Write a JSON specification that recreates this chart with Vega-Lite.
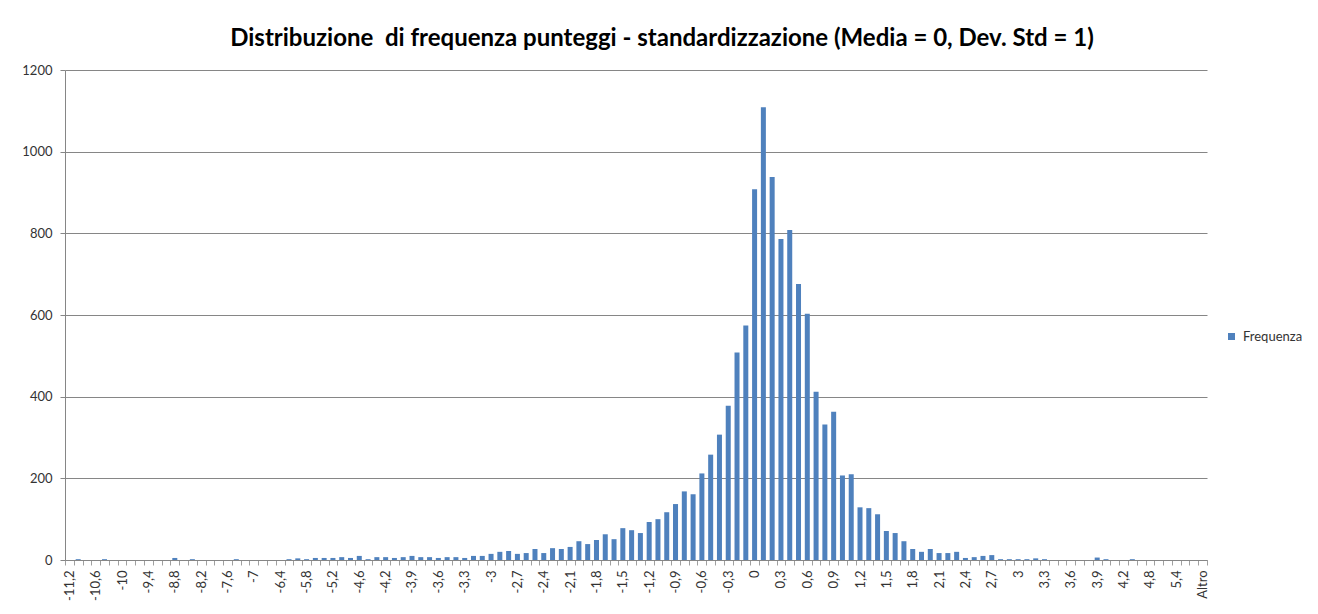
{
  "$schema": "https://vega.github.io/schema/vega-lite/v6.json",
  "autosize": {"type": "none"},
  "width": 1142,
  "height": 490,
  "padding": {"left": 65, "top": 70, "right": 111, "bottom": 54},
  "background": "white",
  "title": {
    "text": "Distribuzione \u00a0di frequenza punteggi - standardizzazione (Media = 0, Dev. Std = 1)",
    "font": "Lato",
    "fontSize": 24,
    "fontWeight": "bold",
    "color": "#000000",
    "anchor": "middle",
    "dx": 26,
    "offset": 13
  },
  "data": {
    "values": [
      {"classe": "-11,2", "frequenza": 0},
      {"classe": "-11", "frequenza": 2},
      {"classe": "-10,8", "frequenza": 0},
      {"classe": "-10,6", "frequenza": 0},
      {"classe": "-10,4", "frequenza": 2},
      {"classe": "-10,2", "frequenza": 0},
      {"classe": "-10", "frequenza": 0},
      {"classe": "-9,8", "frequenza": 0},
      {"classe": "-9,6", "frequenza": 0},
      {"classe": "-9,4", "frequenza": 0},
      {"classe": "-9,2", "frequenza": 0},
      {"classe": "-9", "frequenza": 0},
      {"classe": "-8,8", "frequenza": 5},
      {"classe": "-8,6", "frequenza": 0},
      {"classe": "-8,4", "frequenza": 2},
      {"classe": "-8,2", "frequenza": 0},
      {"classe": "-8", "frequenza": 0},
      {"classe": "-7,8", "frequenza": 0},
      {"classe": "-7,6", "frequenza": 0},
      {"classe": "-7,4", "frequenza": 2},
      {"classe": "-7,2", "frequenza": 0},
      {"classe": "-7", "frequenza": 0},
      {"classe": "-6,8", "frequenza": 0},
      {"classe": "-6,6", "frequenza": 0},
      {"classe": "-6,4", "frequenza": 0},
      {"classe": "-6,2", "frequenza": 2},
      {"classe": "-6", "frequenza": 4},
      {"classe": "-5,8", "frequenza": 2},
      {"classe": "-5,6", "frequenza": 5},
      {"classe": "-5,4", "frequenza": 5},
      {"classe": "-5,2", "frequenza": 5},
      {"classe": "-5", "frequenza": 7},
      {"classe": "-4,8", "frequenza": 5},
      {"classe": "-4,6", "frequenza": 10},
      {"classe": "-4,4", "frequenza": 2},
      {"classe": "-4,3", "frequenza": 7},
      {"classe": "-4,2", "frequenza": 7},
      {"classe": "-4,1", "frequenza": 5},
      {"classe": "-4", "frequenza": 7},
      {"classe": "-3,9", "frequenza": 10},
      {"classe": "-3,8", "frequenza": 7},
      {"classe": "-3,7", "frequenza": 7},
      {"classe": "-3,6", "frequenza": 5},
      {"classe": "-3,5", "frequenza": 7},
      {"classe": "-3,4", "frequenza": 7},
      {"classe": "-3,3", "frequenza": 5},
      {"classe": "-3,2", "frequenza": 10},
      {"classe": "-3,1", "frequenza": 10},
      {"classe": "-3", "frequenza": 15},
      {"classe": "-2,9", "frequenza": 20},
      {"classe": "-2,8", "frequenza": 22},
      {"classe": "-2,7", "frequenza": 15},
      {"classe": "-2,6", "frequenza": 17},
      {"classe": "-2,5", "frequenza": 27},
      {"classe": "-2,4", "frequenza": 17},
      {"classe": "-2,3", "frequenza": 29},
      {"classe": "-2,2", "frequenza": 27},
      {"classe": "-2,1", "frequenza": 32},
      {"classe": "-2", "frequenza": 46},
      {"classe": "-1,9", "frequenza": 39},
      {"classe": "-1,8", "frequenza": 49},
      {"classe": "-1,7", "frequenza": 63},
      {"classe": "-1,6", "frequenza": 51},
      {"classe": "-1,5", "frequenza": 78},
      {"classe": "-1,4", "frequenza": 73},
      {"classe": "-1,3", "frequenza": 66},
      {"classe": "-1,2", "frequenza": 93},
      {"classe": "-1,1", "frequenza": 100},
      {"classe": "-1", "frequenza": 117},
      {"classe": "-0,9", "frequenza": 137},
      {"classe": "-0,8", "frequenza": 168},
      {"classe": "-0,7", "frequenza": 161},
      {"classe": "-0,6", "frequenza": 212},
      {"classe": "-0,5", "frequenza": 258},
      {"classe": "-0,4", "frequenza": 307},
      {"classe": "-0,3", "frequenza": 378},
      {"classe": "-0,2", "frequenza": 508},
      {"classe": "-0,1", "frequenza": 574},
      {"classe": "0", "frequenza": 908},
      {"classe": "0,1", "frequenza": 1109},
      {"classe": "0,2", "frequenza": 938},
      {"classe": "0,3", "frequenza": 786},
      {"classe": "0,4", "frequenza": 808},
      {"classe": "0,5", "frequenza": 676},
      {"classe": "0,6", "frequenza": 603},
      {"classe": "0,7", "frequenza": 412},
      {"classe": "0,8", "frequenza": 332},
      {"classe": "0,9", "frequenza": 363},
      {"classe": "1", "frequenza": 207},
      {"classe": "1,1", "frequenza": 210},
      {"classe": "1,2", "frequenza": 129},
      {"classe": "1,3", "frequenza": 127},
      {"classe": "1,4", "frequenza": 112},
      {"classe": "1,5", "frequenza": 71},
      {"classe": "1,6", "frequenza": 66},
      {"classe": "1,7", "frequenza": 46},
      {"classe": "1,8", "frequenza": 27},
      {"classe": "1,9", "frequenza": 20},
      {"classe": "2", "frequenza": 27},
      {"classe": "2,1", "frequenza": 17},
      {"classe": "2,2", "frequenza": 17},
      {"classe": "2,3", "frequenza": 20},
      {"classe": "2,4", "frequenza": 5},
      {"classe": "2,5", "frequenza": 7},
      {"classe": "2,6", "frequenza": 10},
      {"classe": "2,7", "frequenza": 12},
      {"classe": "2,8", "frequenza": 2},
      {"classe": "2,9", "frequenza": 2},
      {"classe": "3", "frequenza": 2},
      {"classe": "3,1", "frequenza": 2},
      {"classe": "3,2", "frequenza": 4},
      {"classe": "3,3", "frequenza": 2},
      {"classe": "3,4", "frequenza": 0},
      {"classe": "3,5", "frequenza": 0},
      {"classe": "3,6", "frequenza": 0},
      {"classe": "3,7", "frequenza": 0},
      {"classe": "3,8", "frequenza": 0},
      {"classe": "3,9", "frequenza": 6},
      {"classe": "4", "frequenza": 2},
      {"classe": "4,1", "frequenza": 0},
      {"classe": "4,2", "frequenza": 0},
      {"classe": "4,4", "frequenza": 2},
      {"classe": "4,6", "frequenza": 0},
      {"classe": "4,8", "frequenza": 0},
      {"classe": "5", "frequenza": 0},
      {"classe": "5,2", "frequenza": 0},
      {"classe": "5,4", "frequenza": 0},
      {"classe": "5,6", "frequenza": 0},
      {"classe": "5,8", "frequenza": 0},
      {"classe": "Altro", "frequenza": 0}
    ]
  },
  "mark": {"type": "bar", "width": {"band": 0.57}},
  "encoding": {
    "x": {
      "field": "classe",
      "type": "nominal",
      "sort": null,
      "scale": {"paddingInner": 0, "paddingOuter": 0},
      "axis": {
        "title": null,
        "labelAngle": -90,
        "labelFont": "Lato",
        "labelFontSize": 13,
        "labelColor": "#333333",
        "labelPadding": 5,
        "labelOverlap": false,
        "labelExpr": "indexof(['-11,2','-10,6','-10','-9,4','-8,8','-8,2','-7,6','-7','-6,4','-5,8','-5,2','-4,6','-4,2','-3,9','-3,6','-3,3','-3','-2,7','-2,4','-2,1','-1,8','-1,5','-1,2','-0,9','-0,6','-0,3','0','0,3','0,6','0,9','1,2','1,5','1,8','2,1','2,4','2,7','3','3,3','3,6','3,9','4,2','4,8','5,4','Altro'], datum.value) >= 0 ? datum.label : ''",
        "tickBand": "extent",
        "tickSize": 5,
        "tickColor": "#a0a0a0",
        "domainColor": "#868686",
        "grid": false
      }
    },
    "y": {
      "field": "frequenza",
      "type": "quantitative",
      "scale": {"domain": [0, 1200], "nice": false},
      "axis": {
        "title": null,
        "values": [0, 200, 400, 600, 800, 1000, 1200],
        "format": "d",
        "grid": true,
        "gridColor": "#868686",
        "domainColor": "#868686",
        "tickColor": "#868686",
        "tickSize": 5,
        "labelPadding": 8,
        "labelFont": "Lato",
        "labelFontSize": 13,
        "labelColor": "#333333"
      }
    },
    "color": {
      "datum": "Frequenza",
      "scale": {"range": ["#4F81BD"]},
      "legend": {
        "title": null,
        "orient": "none",
        "legendX": 1160,
        "legendY": 260,
        "symbolType": "square",
        "symbolSize": 49,
        "symbolStrokeWidth": 0,
        "labelFont": "Lato",
        "labelFontSize": 13,
        "labelColor": "#333333",
        "labelOffset": 5
      }
    }
  },
  "config": {"view": {"stroke": null}}
}
